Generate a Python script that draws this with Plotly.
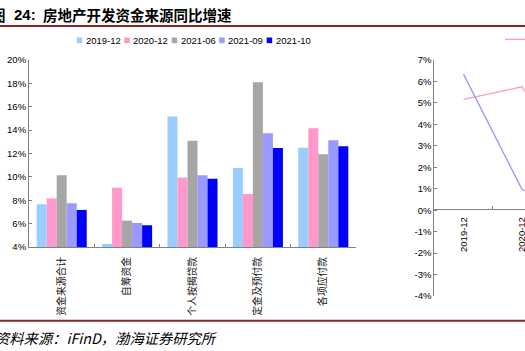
import plotly.graph_objects as go

W, H = 525, 351

# ---------------- data ----------------
categories = ["资金来源合计", "自筹资金", "个人按揭贷款", "定金及预付款", "各项应付款"]
series_names = ["2019-12", "2020-12", "2021-06", "2021-09", "2021-10"]
v_2019_12 = [7.66, 4.26, 15.17, 10.77, 12.49]
v_2020_12 = [8.14, 9.06, 9.94, 8.54, 14.17]
v_2021_06 = [10.14, 6.26, 13.10, 18.10, 11.94]
v_2021_09 = [7.74, 6.06, 10.14, 13.74, 13.14]
v_2021_10 = [7.17, 5.86, 9.83, 12.46, 12.63]
series_values = [v_2019_12, v_2020_12, v_2021_06, v_2021_09, v_2021_10]
left_yticks = [4, 6, 8, 10, 12, 14, 16, 18, 20]

right_dates = ["2019-12", "2020-12", "2021-06"]
right_pink = [5.16, 5.75, 1.7]
right_purple = [6.34, 0.98, -0.3]
right_yticks = [7, 6, 5, 4, 3, 2, 1, 0, -1, -2, -3, -4]

title_fig = "图"
title_num = "24:"
title_text = "房地产开发资金来源同比增速"
source_text = "资料来源：iFinD，渤海证券研究所"

# ---------------- styles ----------------
bar_colors = ["#99CCFF", "#FF99CC", "#A6A6A6", "#9999FF", "#0000FF"]
pink_line = "#FF99CC"
purple_line = "#9999FF"
axis_col = "#808080"
red_rule = "#8E2525"
FONT = "Liberation Sans, Arial, Noto Sans CJK SC"
CJK = "Noto Sans CJK SC"


def px(x):
    return x / W


def py(y):
    return 1 - y / H


fig = go.Figure()

for name, vals, col in zip(series_names, series_values, bar_colors):
    fig.add_trace(go.Bar(x=categories, y=vals, name=name, marker_color=col,
                         marker_line_width=0, xaxis="x", yaxis="y",
                         showlegend=False))

fig.add_trace(go.Scatter(x=right_dates, y=right_pink, mode="lines",
                         line=dict(color=pink_line, width=1.3),
                         xaxis="x2", yaxis="y2", showlegend=False))
fig.add_trace(go.Scatter(x=right_dates, y=right_purple, mode="lines",
                         line=dict(color=purple_line, width=1.3),
                         xaxis="x2", yaxis="y2", showlegend=False))

# x range of right chart so that it gets cut at the right page edge
r_left, r_step = 434.3, 58.4
r_max = -0.5 + (W - r_left) / r_step

shapes = []
annotations = []

# custom legend for the bar chart
leg_x0, leg_step = 76.7, 47.5
for i, (name, col) in enumerate(zip(series_names, bar_colors)):
    sx = leg_x0 + i * leg_step
    shapes.append(dict(type="rect", xref="paper", yref="paper",
                       x0=px(sx), x1=px(sx + 5.5), y0=py(43.2), y1=py(37.5),
                       fillcolor=col, line=dict(width=0)))
    annotations.append(dict(xref="paper", yref="paper", x=px(sx + 7), y=py(40.3),
                            xanchor="left", yanchor="middle", showarrow=False,
                            text=name, font=dict(family=FONT, size=9.5, color="#000")))

# right chart legend segment (visible part)
shapes.append(dict(type="line", xref="paper", yref="paper",
                   x0=px(505), x1=px(530), y0=py(39.3), y1=py(39.3),
                   line=dict(color=pink_line, width=1.3)))

# red rules
for yy in (26, 320.7):
    shapes.append(dict(type="line", xref="paper", yref="paper",
                       x0=0, x1=1, y0=py(yy), y1=py(yy),
                       line=dict(color=red_rule, width=2)))

# title (first character is cut by the page edge)
annotations.append(dict(xref="paper", yref="paper", x=px(0), xshift=8,
                        y=py(14), xanchor="right", yanchor="middle",
                        showarrow=False, text="<b>" + title_fig + "</b>",
                        font=dict(family=CJK, size=14.5, color="#000")))
annotations.append(dict(xref="paper", yref="paper", x=px(12), y=py(14),
                        xanchor="left", yanchor="middle", showarrow=False,
                        text="<b>" + title_num + "</b>",
                        font=dict(family=FONT, size=15, color="#000")))
annotations.append(dict(xref="paper", yref="paper", x=px(41), y=py(14),
                        xanchor="left", yanchor="middle", showarrow=False,
                        text="<b>" + title_text + "</b>",
                        font=dict(family=CJK, size=14.5, color="#000")))
# source
annotations.append(dict(xref="paper", yref="paper", x=px(0), xshift=-7,
                        y=py(337), xanchor="left", yanchor="middle",
                        showarrow=False, text="<i>" + source_text + "</i>",
                        font=dict(family=CJK, size=14.3, color="#000")))

fig.update_layout(
    width=W, height=H,
    margin=dict(l=0, r=0, t=0, b=0),
    template="none",
    paper_bgcolor="white", plot_bgcolor="white",
    font=dict(family=FONT, size=9.5, color="#000"),
    barmode="group", bargap=0.235, bargroupgap=0,
    showlegend=False,
    xaxis=dict(domain=[px(29), px(356)], anchor="y",
               tickvals=categories, ticktext=categories, tickangle=-90,
               tickfont=dict(family=CJK, size=9.8, color="#111"),
               ticklabelstandoff=5,
               showline=True, linecolor=axis_col, linewidth=1,
               ticks="inside", ticklen=3, tickcolor=axis_col,
               tickson="boundaries", showgrid=False, zeroline=False),
    yaxis=dict(domain=[py(247), py(60)], anchor="x", range=[4, 20],
               tickvals=left_yticks,
               ticktext=[f"{v}%" for v in left_yticks],
               showline=True, linecolor=axis_col, linewidth=1,
               ticks="inside", ticklen=3, tickcolor=axis_col,
               showgrid=False, zeroline=False, tickfont=dict(size=9.5)),
    xaxis2=dict(domain=[px(r_left), 1], anchor="free", position=py(209.3),
                type="category", range=[-0.5, r_max],
                showline=True, linecolor=axis_col, linewidth=1,
                ticks="inside", ticklen=3, tickcolor=axis_col,
                tickson="boundaries", tickangle=-90, ticklabelstandoff=3,
                showgrid=False, zeroline=False, tickfont=dict(size=9.5)),
    yaxis2=dict(domain=[py(296), py(60)], anchor="x2", range=[-4, 7],
                tickvals=right_yticks,
                ticktext=[f"{v}%" for v in right_yticks],
                showline=True, linecolor=axis_col, linewidth=1,
                ticks="inside", ticklen=3, tickcolor=axis_col,
                showgrid=False, zeroline=False, tickfont=dict(size=9.5)),
    shapes=shapes,
    annotations=annotations,
)

fig.write_html("out.html")
